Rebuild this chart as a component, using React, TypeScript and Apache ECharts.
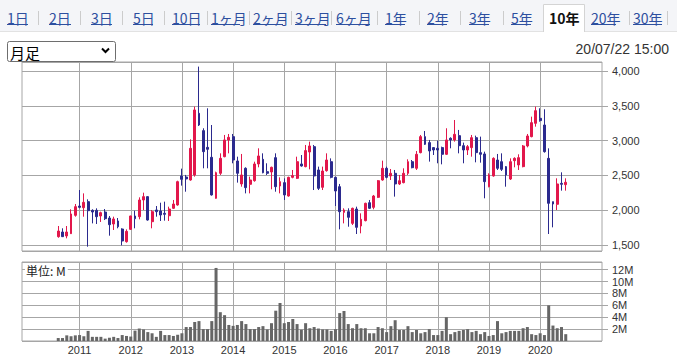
import React, { useEffect, useRef } from 'react';
import * as echarts from 'echarts';

// ---- data (monthly candles, Aug 2010 .. Jul 2020) ----
const FIRST_CATEGORY = '2009-12';
const CATEGORY_COUNT = 136;
const FIRST_DATA_MONTH = '2010-08';
const yearLabels = ['2011', '2012', '2013', '2014', '2015', '2016', '2017', '2018', '2019', '2020'];

const openPrices = [
  1620, 1687, 1630, 1663, 1926,
  2060, 2036, 2123, 1998, 1998, 1917, 1974, 1888, 1802, 1845, 1730, 1548,
  1725, 1917, 1907, 2147, 2195, 1835, 2003, 1989, 1955, 1921, 2027, 2075,
  2492, 2477, 2434, 2506, 3392, 3143, 2903, 2760, 2171, 2530, 2769, 3009,
  3057, 2707, 2377, 2602, 2372, 2424, 2664, 2731, 2554, 2549, 2755, 2348,
  2396, 2204, 2472, 2458, 2664, 2626, 2836, 2913, 2578, 2329, 2568, 2697,
  2472, 2338, 1969, 1979, 1811, 2017, 1773, 1850, 2108, 2041, 2185, 2434,
  2602, 2492, 2530, 2377, 2396, 2530, 2697, 2602, 2827, 3057, 2971, 2899,
  2889, 2899, 2803, 3033, 3009, 3071, 2927, 2865, 2899, 3042, 2827, 2808,
  2338, 2492, 2721, 2697, 2626, 2448, 2712, 2650, 2626, 2923, 3057, 3248,
  3320, 3224, 2745, 2123, 2085, 2386, 2367,
];
const highPrices = [
  1773, 1740, 1773, 2013, 2089,
  2290, 2242, 2156, 2013, 2027, 1979, 2017, 1917, 1907, 1888, 1740, 1725,
  1921, 1993, 2185, 2252, 2200, 2003, 2060, 2108, 2123, 2051, 2147, 2424,
  2597, 2507, 3018, 3488, 4063, 3177, 3464, 3224, 2554, 2817, 3081, 3095,
  3095, 2769, 2808, 2616, 2482, 2697, 2889, 2817, 2674, 2626, 2817, 2472,
  2458, 2482, 2578, 2769, 2793, 2937, 2985, 2937, 2626, 2626, 2817, 2745,
  2482, 2377, 2027, 2027, 2037, 2051, 1955, 2108, 2147, 2219, 2434, 2712,
  2626, 2592, 2578, 2506, 2602, 2731, 2721, 2850, 3081, 3138, 3009, 2904,
  2999, 2913, 3177, 3047, 3296, 3153, 2971, 2937, 3081, 3071, 3057, 2841,
  2530, 2760, 2808, 2817, 2635, 2745, 2760, 2803, 2937, 3095, 3344, 3488,
  3464, 3450, 2889, 2123, 2458, 2544, 2458,
];
const lowPrices = [
  1605, 1615, 1596, 1658, 1907,
  2027, 1907, 1476, 1811, 1802, 1831, 1859, 1634, 1716, 1740, 1495, 1534,
  1716, 1740, 1869, 2003, 1850, 1740, 1907, 1845, 1850, 1845, 2017, 2065,
  2353, 2266, 2424, 2482, 3210, 2602, 2602, 2210, 2165, 2506, 2760, 2817,
  2674, 2396, 2338, 2242, 2242, 2410, 2616, 2530, 2506, 2300, 2266, 2242,
  2147, 2195, 2458, 2448, 2626, 2616, 2587, 2290, 2290, 2290, 2554, 2458,
  2060, 1725, 1811, 1763, 1787, 1658, 1668, 1840, 2017, 2013, 2175, 2424,
  2458, 2434, 2195, 2362, 2386, 2506, 2602, 2578, 2817, 2937, 2698, 2793,
  2674, 2659, 2793, 2889, 2985, 2817, 2674, 2793, 2769, 2688, 2683, 2171,
  2329, 2482, 2578, 2563, 2338, 2434, 2616, 2578, 2616, 2903, 3047, 3200,
  3272, 2827, 1658, 1754, 2003, 2281, 2281,
];
const closePrices = [
  1701, 1620, 1687, 1946, 2051,
  2041, 2113, 1993, 1974, 1907, 1965, 1878, 1792, 1874, 1763, 1558, 1696,
  1917, 1878, 2147, 2195, 1859, 1979, 1979, 1931, 1941, 2017, 2089, 2410,
  2444, 2449, 2889, 3440, 3224, 2841, 2875, 2219, 2539, 2745, 3009, 3047,
  2721, 2530, 2506, 2324, 2434, 2664, 2779, 2539, 2530, 2616, 2338, 2410,
  2219, 2472, 2496, 2697, 2635, 2856, 2923, 2492, 2314, 2563, 2721, 2472,
  2276, 1979, 2003, 1898, 2027, 1754, 1869, 2099, 2027, 2204, 2424, 2602,
  2472, 2530, 2377, 2424, 2530, 2697, 2611, 2803, 3057, 2947, 2851, 2865,
  2865, 2803, 3009, 3009, 3090, 2927, 2865, 2913, 3042, 2827, 2803, 2410,
  2506, 2745, 2602, 2587, 2506, 2697, 2745, 2755, 2923, 3066, 3258, 3430,
  3287, 2841, 2099, 2089, 2377, 2372, 2401,
];
// volume in millions of shares
const volumes = [
  0.5, 0.5, 0.95, 0.8, 0.95,
  1.0, 0.8, 1.7, 0.7, 0.7, 0.7, 0.4, 0.55, 0.7, 0.5, 1.0, 0.85,
  0.75, 1.75, 2.1, 1.95, 1.5, 1.3, 0.7, 1.7, 1.0, 1.0, 0.85, 1.05,
  1.3, 2.35, 2.35, 3.2, 3.35, 2.0, 2.0, 3.35, 12.3, 4.85, 4.35, 2.7,
  2.55, 2.7, 3.35, 2.85, 2.0, 2.0, 2.35, 2.5, 1.95, 3.0, 5.1, 6.4,
  3.0, 3.2, 3.7, 2.85, 1.9, 3.0, 2.15, 2.35, 2.1, 1.95, 1.95, 1.7,
  2.0, 4.7, 5.05, 2.85, 2.15, 2.85, 2.15, 2.15, 1.3, 1.3, 2.35, 2.15,
  1.5, 2.5, 3.5, 1.85, 1.85, 2.5, 1.5, 1.85, 1.3, 1.5, 2.0, 1.0,
  1.0, 1.7, 4.0, 1.15, 1.5, 1.7, 1.85, 2.0, 1.5, 1.7, 1.15, 1.5,
  0.85, 1.0, 3.35, 1.3, 1.5, 1.7, 1.7, 1.7, 2.15, 2.35, 1.15, 1.0,
  1.3, 1.0, 6.0, 2.6, 2.15, 2.35, 1.15,
];

const PRICE_MIN = 1414;
const PRICE_MAX = 4129;
const VOLUME_MAX = 13.3;

const tabLabels = ['1日', '2日', '3日', '5日', '10日', '1ヶ月', '2ヶ月', '3ヶ月', '6ヶ月', '1年', '2年', '3年', '5年', '10年', '20年', '30年'];
const SELECTED_TAB = '10年';
const tabLeft = [7, 49, 91, 133, 172, 211, 253, 295, 336, 385, 427, 469, 511, 549, 591, 633];
const tabRight = [28, 71, 112, 153, 200, 240, 283, 326, 370, 405, 447, 489, 531, 574, 616, 662];
const separatorX = [38, 80, 122, 164, 207, 249, 291, 331, 377, 419, 460, 503, 629, 667];
const candleType = '月足';
const timestampText = '20/07/22 15:00';
const unitText = '単位: M';

const UP = '#e2174b';
const DOWN = '#2b2a8e';
const GRID = '#a6a6a6';
const LINK = '#2d4f9f';

function monthList(start: string, count: number): string[] {
  const [y0, m0] = start.split('-').map(Number);
  const out: string[] = [];
  for (let i = 0; i < count; i++) {
    const t = y0 * 12 + (m0 - 1) + i;
    out.push(`${Math.floor(t / 12)}-${String((t % 12) + 1).padStart(2, '0')}`);
  }
  return out;
}

const categories = monthList(FIRST_CATEGORY, CATEGORY_COUNT);
const dataMonths = monthList(FIRST_DATA_MONTH, openPrices.length);
const candleData = dataMonths.map((m, i) => [m, openPrices[i], closePrices[i], lowPrices[i], highPrices[i]]);
const volumeData = dataMonths.map((m, i) => [m, volumes[i]]);

const isYearStart = (_i: number, v: string) => v.endsWith('-01') && yearLabels.includes(v.slice(0, 4));

function buildGraphics() {
  const g: any[] = [];
  g.push({ type: 'rect', silent: true, z: 100, shape: { x: 0, y: 0, width: 677, height: 31 }, style: { fill: '#f4f5f8' } });
  g.push({ type: 'line', silent: true, z: 100, shape: { x1: 0, y1: 31.5, x2: 677, y2: 31.5 }, style: { stroke: '#e2e2e2', lineWidth: 1 } });
  const si = tabLabels.indexOf(SELECTED_TAB);
  const sx0 = tabLeft[si] - 6;
  const sx1 = tabRight[si] + 10;
  g.push({ type: 'rect', silent: true, z: 101, shape: { x: sx0, y: 4, width: sx1 - sx0, height: 29 }, style: { fill: '#fff' } });
  g.push({ type: 'polyline', silent: true, z: 102, shape: { points: [[sx0 + 0.5, 32], [sx0 + 0.5, 4.5], [sx1 + 0.5, 4.5], [sx1 + 0.5, 32]] }, style: { stroke: '#d4d4d4', fill: 'none', lineWidth: 1 } });
  separatorX.forEach((x) => {
    g.push({ type: 'line', silent: true, z: 101, shape: { x1: x + 0.5, y1: 11, x2: x + 0.5, y2: 25 }, style: { stroke: '#cccccc', lineWidth: 1 } });
  });
  tabLabels.forEach((t, i) => {
    const sel = t === SELECTED_TAB;
    g.push({
      type: 'text', silent: true, z: 103, x: tabLeft[i], y: 17.5,
      style: { text: t, fill: sel ? '#111' : LINK, fontSize: 14, fontWeight: sel ? 'bold' : 'normal', fontFamily: '"Noto Sans CJK JP", sans-serif', verticalAlign: 'middle', align: 'left' },
    });
    if (!sel) {
      g.push({ type: 'line', silent: true, z: 103, shape: { x1: tabLeft[i], y1: 24.5, x2: tabRight[i], y2: 24.5 }, style: { stroke: LINK, lineWidth: 1 } });
    }
  });
  // dropdown
  g.push({ type: 'rect', silent: true, z: 100, shape: { x: 7.5, y: 41.5, width: 108, height: 20, r: 2 }, style: { fill: '#fff', stroke: '#6e6e6e', lineWidth: 1 } });
  g.push({ type: 'text', silent: true, z: 101, x: 10, y: 52, style: { text: candleType, fill: '#000', fontSize: 15, fontFamily: '"Noto Sans CJK JP", sans-serif', verticalAlign: 'middle' } });
  g.push({ type: 'polyline', silent: true, z: 101, shape: { points: [[102, 48.5], [105.5, 52], [109, 48.5]] }, style: { stroke: '#000', fill: 'none', lineWidth: 2 } });
  // timestamp
  g.push({ type: 'text', silent: true, z: 100, x: 669, y: 49, style: { text: timestampText, fill: '#333', fontSize: 14, fontFamily: '"Liberation Sans", Arial, sans-serif', align: 'right', verticalAlign: 'middle' } });
  // unit label on volume panel
  g.push({ type: 'text', silent: true, z: 100, x: 25, y: 270, style: { text: unitText, fill: '#222', fontSize: 12, fontFamily: '"Noto Sans CJK JP", sans-serif', verticalAlign: 'middle', backgroundColor: '#fff', padding: [1, 2, 1, 1] } });
  return g;
}

const axisFont = { color: '#333', fontSize: 11, fontFamily: '"Liberation Sans", Arial, sans-serif' };

const option: any = {
  animation: false,
  backgroundColor: '#fff',
  grid: [
    { left: 22, right: 75, top: 62, height: 189, show: true, borderColor: GRID, borderWidth: 1 },
    { left: 22, right: 75, top: 262, height: 79, show: true, borderColor: GRID, borderWidth: 1 },
  ],
  xAxis: [
    {
      type: 'category', gridIndex: 0, data: categories, boundaryGap: true,
      axisLine: { show: false }, axisTick: { show: false }, axisLabel: { show: false },
      splitLine: { show: true, interval: isYearStart, alignWithLabel: true, lineStyle: { color: GRID, width: 1 } },
    },
    {
      type: 'category', gridIndex: 1, data: categories, boundaryGap: true,
      axisLine: { show: false }, axisTick: { show: false },
      axisLabel: { show: true, interval: isYearStart, formatter: (v: string) => v.slice(0, 4), margin: 3, ...axisFont },
      splitLine: { show: true, interval: isYearStart, alignWithLabel: true, lineStyle: { color: GRID, width: 1 } },
    },
  ],
  yAxis: [
    {
      type: 'value', gridIndex: 0, position: 'right', min: PRICE_MIN, max: PRICE_MAX, splitNumber: 5, scale: true,
      axisLine: { show: false },
      axisTick: { show: true, length: 6, lineStyle: { color: GRID } },
      axisLabel: {
        margin: 10, showMinLabel: false, showMaxLabel: false, ...axisFont,
        formatter: (v: number) => (v % 500 === 0 ? v.toLocaleString('en-US') : ''),
      },
      splitLine: { show: true, lineStyle: { color: GRID, width: 1 } },
    },
    {
      type: 'value', gridIndex: 1, position: 'right', min: 0, max: VOLUME_MAX, interval: 2,
      axisLine: { show: false },
      axisTick: { show: true, length: 6, lineStyle: { color: GRID } },
      axisLabel: {
        margin: 10, showMinLabel: false, showMaxLabel: false, ...axisFont,
        formatter: (v: number) => (v > 0 && v % 2 === 0 ? `${v}M` : ''),
      },
      splitLine: { show: true, lineStyle: { color: GRID, width: 1 } },
    },
  ],
  series: [
    {
      type: 'candlestick', xAxisIndex: 0, yAxisIndex: 0,
      data: candleData, encode: { x: 0, y: [1, 2, 3, 4] },
      barWidth: 2.4,
      itemStyle: { color: UP, color0: DOWN, borderColor: UP, borderColor0: DOWN, borderWidth: 1 },
    },
    {
      type: 'bar', xAxisIndex: 1, yAxisIndex: 1,
      data: volumeData, encode: { x: 0, y: 1 },
      barWidth: 3,
      itemStyle: { color: '#666666' },
    },
  ],
  graphic: buildGraphics(),
};

export default function App() {
  const ref = useRef<HTMLDivElement>(null);
  useEffect(() => {
    const chart = echarts.init(ref.current!, null, { renderer: 'svg' });
    chart.setOption(option);
    return () => chart.dispose();
  }, []);
  return (
    <div
      ref={ref}
      style={{ position: 'absolute', left: 0, top: 0, width: 677, height: 355, background: '#fff' }}
    />
  );
}
